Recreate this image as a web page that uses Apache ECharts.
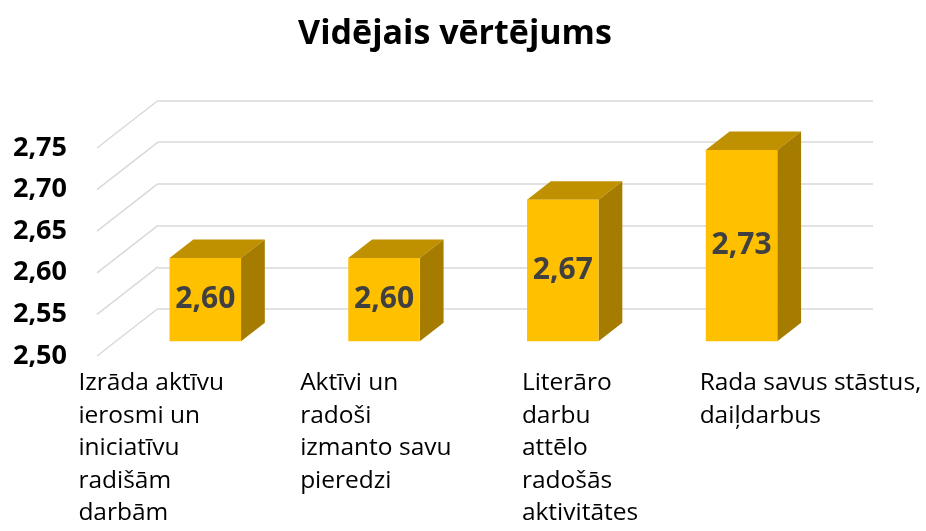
<!DOCTYPE html>
<html>
<head>
<meta charset="utf-8">
<script src="https://cdn.jsdelivr.net/npm/echarts@6.0.0/dist/echarts.min.js"></script>
<style>
  html, body { margin: 0; padding: 0; background: #fff; }
  #chart { width: 926px; height: 531px; }
</style>
</head>
<body>
<div id="chart"></div>
<script>
const categories = [
  "Izrāda aktīvu\nierosmi un\niniciatīvu\nradišām\ndarbām",
  "Aktīvi un\nradoši\nizmanto savu\npieredzi",
  "Literāro\ndarbu\nattēlo\nradošās\naktivitātes",
  "Rada savus stāstus,\ndaiļdarbus"
];
const values = [2.60, 2.60, 2.67, 2.73];
const yTicks = [2.50, 2.55, 2.60, 2.65, 2.70, 2.75];

// 3D look: depth of the floor and where the bars sit in it
const DEPTH_X = 61, DEPTH_Y = -47.5;
const BAR_FRONT = 0.31, BAR_DEPTH = 0.39, BAR_WIDTH = 0.4;
const LABEL_DX = [-108, -65, -22, -23];
const FONT = "'Open Sans', 'Noto Sans', sans-serif";

const fmt = v => v.toFixed(2).replace(".", ",");

const chart = echarts.init(document.getElementById("chart"));

const option = {
  animation: false,
  title: {
    text: "Vidējais vērtējums",
    left: 450,
    textAlign: "center",
    top: 12,
    textStyle: { fontFamily: FONT, fontWeight: "bold", fontSize: 34, color: "#000" }
  },
  grid: [
    { left: 97, right: 114, top: 148, bottom: 175 },   // front plane
    { left: 158, right: 53, top: 100.5, bottom: 222 }  // back wall
  ],
  xAxis: [
    { type: "category", gridIndex: 0, data: categories,
      axisLine: { show: false }, axisTick: { show: false }, axisLabel: { show: false } },
    { type: "category", gridIndex: 1, data: categories, show: false }
  ],
  yAxis: [
    { type: "value", gridIndex: 0, min: 2.5, max: 2.75, interval: 0.05,
      axisLine: { show: false }, axisTick: { show: false }, splitLine: { show: false },
      axisLabel: { formatter: fmt, margin: 30, color: "#000",
        fontFamily: FONT, fontWeight: "bold", fontSize: 27 } },
    { type: "value", gridIndex: 1, min: 2.5, max: 2.75, interval: 0.05,
      axisLine: { show: false }, axisTick: { show: false }, axisLabel: { show: false },
      splitLine: { show: true, lineStyle: { color: "#d9d9d9", width: 1.5 } } }
  ],
  series: [
    {
      // diagonal side-wall gridlines
      type: "custom",
      xAxisIndex: 0, yAxisIndex: 0,
      clip: false,
      silent: true,
      data: yTicks.map(v => [0, v]),
      renderItem: function (params, api) {
        const p = api.coord([0, api.value(1)]);
        const band = api.size([1, 0])[0];
        const x0 = p[0] - band / 2;
        return {
          type: "line",
          shape: { x1: x0, y1: p[1], x2: x0 + DEPTH_X, y2: p[1] + DEPTH_Y },
          style: { stroke: "#d9d9d9", lineWidth: 1.5 }
        };
      }
    },
    {
      type: "custom",
      xAxisIndex: 0, yAxisIndex: 0,
      clip: false,
      data: values.map((v, i) => [i, v]),
      renderItem: function (params, api) {
        const i = api.value(0);
        const v = api.value(1);
        const base = api.coord([i, 2.5]);
        const top = api.coord([i, v]);
        const band = api.size([1, 0])[0];
        const ox = DEPTH_X * BAR_FRONT, oy = DEPTH_Y * BAR_FRONT;
        const dx = DEPTH_X * BAR_DEPTH, dy = DEPTH_Y * BAR_DEPTH;
        const hw = band * BAR_WIDTH / 2;
        const x0 = base[0] + ox - hw, x1 = base[0] + ox + hw;
        const yt = top[1] + oy, yb = base[1] + oy;
        return {
          type: "group",
          children: [
            { type: "polygon",
              shape: { points: [[x0, yt], [x1, yt], [x1 + dx, yt + dy], [x0 + dx, yt + dy]] },
              style: { fill: "#BF9000" } },
            { type: "polygon",
              shape: { points: [[x1, yt], [x1 + dx, yt + dy], [x1 + dx, yb + dy], [x1, yb]] },
              style: { fill: "#A67C00" } },
            { type: "rect",
              shape: { x: x0, y: yt, width: x1 - x0, height: yb - yt },
              style: { fill: "#FFC000" } },
            { type: "text",
              x: (x0 + x1) / 2, y: (yt + yb) / 2,
              style: { text: fmt(v), fill: "#404040", fontFamily: FONT,
                fontWeight: "bold", fontSize: 30, align: "center", verticalAlign: "middle" } },
            { type: "text",
              x: base[0] + LABEL_DX[i], y: base[1] + 11,
              style: { text: categories[i], fill: "#000", fontFamily: FONT,
                fontSize: 24.5, lineHeight: 32.5, align: "left", verticalAlign: "top" } }
          ]
        };
      }
    }
  ]
};

chart.setOption(option);
</script>
</body>
</html>
